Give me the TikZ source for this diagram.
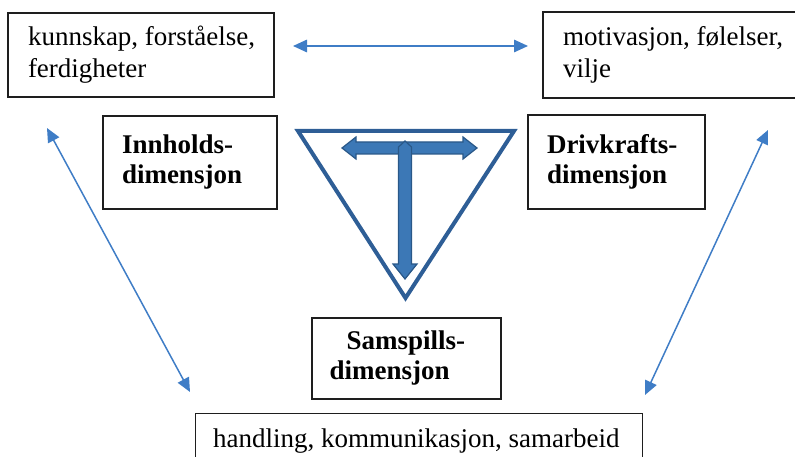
\documentclass[tikz,border=0pt]{standalone}
\usepackage{fontspec}
\setmainfont{Liberation Serif}
\usetikzlibrary{arrows.meta}
\definecolor{arrowblue}{HTML}{3F7DC6}
\definecolor{triblue}{HTML}{2E5E96}
\definecolor{tfill}{HTML}{3C78B6}
\definecolor{tedge}{HTML}{2A5888}
\definecolor{boxline}{HTML}{1E1E1E}
\begin{document}
\begin{tikzpicture}[x=1pt,y=-1pt,
  box/.style={draw=boxline, line width=1.4pt, inner sep=0pt, align=left, font=\fontsize{27}{32}\selectfont},
  bbox/.style={box, font=\fontsize{27}{30}\selectfont\bfseries},
  link/.style={arrowblue, line width=1.5pt, {Triangle[length=14pt,width=12.5pt]}-{Triangle[length=14pt,width=12.5pt]}},
  tri/.style={triblue, line width=4pt, line join=miter},
  tarrow/.style={fill=tfill, draw=tedge, line width=1.2pt, line join=miter}
]
\path[use as bounding box] (0,0) rectangle (795,457);
\clip (0,0) rectangle (795,457);

% boxes
\node[box, minimum width=266pt, minimum height=84pt] (kf) at (141,55)
  {\makebox[226pt][l]{kunnskap, forståelse,}\\\makebox[226pt][l]{ferdigheter}};
\node[box, minimum width=272pt, minimum height=86pt] (mf) at (679,55)
  {\makebox[232pt][l]{motivasjon, følelser,}\\\makebox[232pt][l]{vilje}};
\node[bbox, minimum width=174pt, minimum height=93pt] (inn) at (190,162.5)
  {\makebox[136pt][l]{Innholds-}\\\makebox[136pt][l]{dimensjon}};
\node[bbox, minimum width=177pt, minimum height=94pt] (drv) at (616.5,162)
  {\makebox[139pt][l]{Drivkrafts-}\\\makebox[139pt][l]{dimensjon}};
\node[bbox, minimum width=189pt, minimum height=81pt] (sam) at (406.5,358.5)
  {\makebox[154pt][l]{\hspace*{17pt}Samspills-}\\\makebox[154pt][l]{dimensjon}};
\node[box, minimum width=447pt, minimum height=90pt, anchor=north west] (hk) at (195,413) {};
\node[anchor=base west, inner sep=0pt, font=\fontsize{27}{32}\selectfont] (hkt) at (213,447)
  {handling, kommunikasjon, samarbeid};

% connectors
\coordinate (hl) at (293,46);
\coordinate (hr) at (528,46);
\coordinate (l1) at (47,128);
\coordinate (l2) at (190,392);
\coordinate (r1) at (768,130);
\coordinate (r2) at (645,395);
\draw[link] (hl) -- (hr);
\draw[link] (l1) -- (l2);
\draw[link] (r1) -- (r2);

% triangle
\coordinate (ta) at (298,131);
\coordinate (tb) at (514,131);
\coordinate (tc) at (405.5,298);
\draw[tri] (ta) -- (tb) -- (tc) -- cycle;

% T arrows
\draw[tarrow] (342,148) -- (356,137) -- (356,142) -- (463,142) -- (463,137) -- (477,148)
  -- (463,159) -- (463,154) -- (356,154) -- (356,159) -- cycle;
\draw[tarrow] (398.5,147) -- (405,141) -- (411.5,147) -- (411.5,264) -- (417,264) -- (405,279)
  -- (393,264) -- (398.5,264) -- cycle;
\end{tikzpicture}
\end{document}
